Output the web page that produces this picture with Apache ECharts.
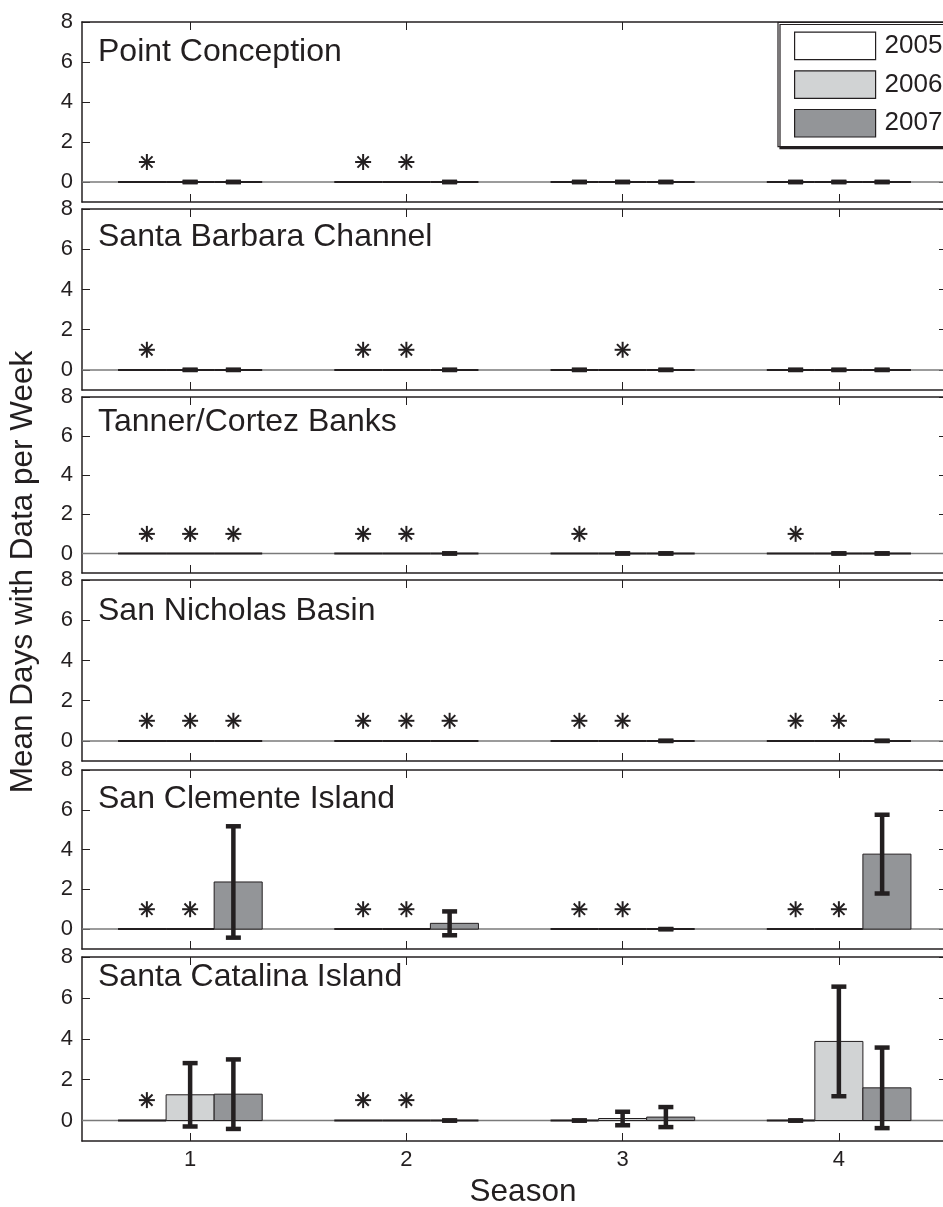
<!DOCTYPE html>
<html>
<head>
<meta charset="utf-8">
<script src="https://cdn.jsdelivr.net/npm/echarts@6/dist/echarts.min.js"></script>
<style>
html,body{margin:0;padding:0;background:#fff;}
#chart{width:943px;height:1207px;}
</style>
</head>
<body>
<div id="chart"></div>
<script>
// ---------------- DATA ----------------
const seasons = [1, 2, 3, 4];
const years = ['2005', '2006', '2007'];
const panelNames = ['Point Conception', 'Santa Barbara Channel', 'Tanner/Cortez Banks',
                    'San Nicholas Basin', 'San Clemente Island', 'Santa Catalina Island'];
const xTicks = [1, 2, 3, 4];
const yTicks = [0, 2, 4, 6, 8];
const yMin = -1, yMax = 8;
const missingMarkerLevel = 1; // asterisk = no data for that season/year

// rows: 2005, 2006, 2007 ; columns: seasons 1-4 ; null = no data (asterisk)
const pointConceptionMean = [[null, null, 0, 0], [0, null, 0, 0], [0, 0, 0, 0]];
const pointConceptionErr  = [[null, null, 0, 0], [0, null, 0, 0], [0, 0, 0, 0]];
const santaBarbaraMean    = [[null, null, 0, 0], [0, null, null, 0], [0, 0, 0, 0]];
const santaBarbaraErr     = [[null, null, 0, 0], [0, null, null, 0], [0, 0, 0, 0]];
const tannerCortezMean    = [[null, null, null, null], [null, null, 0, 0], [null, 0, 0, 0]];
const tannerCortezErr     = [[null, null, null, null], [null, null, 0, 0], [null, 0, 0, 0]];
const sanNicholasMean     = [[null, null, null, null], [null, null, null, null], [null, null, 0, 0]];
const sanNicholasErr      = [[null, null, null, null], [null, null, null, null], [null, null, 0, 0]];
const sanClementeMean     = [[null, null, null, null], [null, null, null, null], [2.37, 0.29, 0, 3.77]];
const sanClementeErr      = [[null, null, null, null], [null, null, null, null], [2.8, 0.6, 0, 1.98]];
const santaCatalinaMean   = [[null, null, 0, 0], [1.26, null, 0.1, 3.87], [1.29, 0, 0.17, 1.6]];
const santaCatalinaErr    = [[null, null, 0, 0], [1.55, null, 0.33, 2.68], [1.7, 0, 0.49, 1.97]];

const panelMeans = [pointConceptionMean, santaBarbaraMean, tannerCortezMean,
                    sanNicholasMean, sanClementeMean, santaCatalinaMean];
const panelErrs  = [pointConceptionErr, santaBarbaraErr, tannerCortezErr,
                    sanNicholasErr, sanClementeErr, santaCatalinaErr];

// ---------------- LAYOUT / STYLE ----------------
const FONT = '"Liberation Sans", Arial, Helvetica, sans-serif';
const INK = '#231f20';
const fills = ['#ffffff', '#d1d3d4', '#939598'];
const barOffsets = [-0.2222, 0, 0.2222];
const barWidth = 0.2222;
const errOffsets = [-0.2, 0, 0.2];
const gridTops = [22, 209, 397, 580, 770, 957];
const gridHeights = [180, 181, 176, 181, 179, 184];
const gridLeft = 82, gridWidth = 865;
const titleY = [52.5, 237.5, 422.5, 611.3, 798.8, 977.5];

function asteriskLines(cx, cy) {
  const r = 8, d = 5.66;
  const segs = [[0, -r, 0, r], [-r, 0, r, 0], [-d, -d, d, d], [-d, d, d, -d]];
  return segs.map(s => ({
    type: 'line',
    shape: { x1: cx + s[0], y1: cy + s[1], x2: cx + s[2], y2: cy + s[3] },
    style: { stroke: INK, lineWidth: 2 }
  }));
}

function makeRender(k) {
  return function (params, api) {
    const s = api.value(0), m = api.value(1), e = api.value(2), miss = api.value(3);
    const bc = s + barOffsets[k];
    const p0 = api.coord([bc - barWidth / 2, 0]);
    const p1 = api.coord([bc + barWidth / 2, m]);
    const children = [];
    if (m === 0) {
      children.push({ type: 'line', shape: { x1: p0[0], y1: p0[1], x2: p1[0], y2: p0[1] },
                      style: { stroke: INK, lineWidth: 2 } });
    } else {
      children.push({ type: 'rect',
        shape: { x: p0[0], y: p1[1], width: p1[0] - p0[0], height: p0[1] - p1[1] },
        style: { fill: fills[k], stroke: INK, lineWidth: 1 } });
    }
    const ex = s + errOffsets[k];
    if (miss) {
      const a = api.coord([ex, missingMarkerLevel]);
      asteriskLines(a[0], a[1]).forEach(c => children.push(c));
    } else {
      const t = api.coord([ex, m + e]);
      const b = api.coord([ex, m - e]);
      const cw = 7.5;
      children.push({ type: 'line', shape: { x1: t[0], y1: t[1], x2: b[0], y2: b[1] },
                      style: { stroke: INK, lineWidth: 4.5 } });
      children.push({ type: 'line', shape: { x1: t[0] - cw, y1: t[1], x2: t[0] + cw, y2: t[1] },
                      style: { stroke: INK, lineWidth: 4.5 } });
      children.push({ type: 'line', shape: { x1: b[0] - cw, y1: b[1], x2: b[0] + cw, y2: b[1] },
                      style: { stroke: INK, lineWidth: 4.5 } });
    }
    return { type: 'group', children };
  };
}

function baselineRender(params, api) {
  const a = api.coord([0.5, 0]);
  const b = api.coord([4.5, 0]);
  return { type: 'line', shape: { x1: a[0], y1: a[1], x2: b[0], y2: b[1] },
           style: { stroke: '#7a7a7a', lineWidth: 1.5 } };
}

const grids = [], xAxes = [], yAxes = [], series = [], graphics = [];

panelNames.forEach((name, i) => {
  grids.push({ left: gridLeft, width: gridWidth, top: gridTops[i], height: gridHeights[i],
               outerBoundsMode: 'none', containLabel: false });
  const axLine = { show: true, onZero: false, lineStyle: { color: INK, width: 1.5 } };
  const tickStyle = { color: INK, width: 1 };
  xAxes.push({ gridIndex: i, type: 'value', min: 0.5, max: 4.5, position: 'bottom',
    axisLine: axLine,
    axisTick: { show: true, inside: true, length: 8, customValues: xTicks, lineStyle: tickStyle },
    axisLabel: { show: i === panelNames.length - 1, customValues: xTicks, margin: 8,
                 fontSize: 22, color: INK, fontFamily: FONT },
    splitLine: { show: false } });
  xAxes.push({ gridIndex: i, type: 'value', min: 0.5, max: 4.5, position: 'top',
    axisLine: axLine,
    axisTick: { show: true, inside: true, length: 8, customValues: xTicks, lineStyle: tickStyle },
    axisLabel: { show: false }, splitLine: { show: false } });
  yAxes.push({ gridIndex: i, type: 'value', min: yMin, max: yMax, position: 'left',
    axisLine: axLine,
    axisTick: { show: true, inside: true, length: 8, customValues: yTicks, lineStyle: tickStyle },
    axisLabel: { show: true, customValues: yTicks, margin: 9, fontSize: 22, color: INK, fontFamily: FONT },
    splitLine: { show: false } });
  yAxes.push({ gridIndex: i, type: 'value', min: yMin, max: yMax, position: 'right',
    axisLine: axLine,
    axisTick: { show: true, inside: true, length: 8, customValues: yTicks, lineStyle: tickStyle },
    axisLabel: { show: false }, splitLine: { show: false } });

  series.push({ type: 'custom', name: 'baseline', xAxisIndex: 2 * i, yAxisIndex: 2 * i,
    silent: true, renderItem: baselineRender, data: [[1, 0]], z: 1 });

  years.forEach((yr, k) => {
    const means = panelMeans[i][k], errs = panelErrs[i][k];
    const data = seasons.map((s, j) => {
      const miss = means[j] === null;
      return [s, miss ? 0 : means[j], miss ? 0 : errs[j], miss ? 1 : 0];
    });
    series.push({ type: 'custom', name: yr, xAxisIndex: 2 * i, yAxisIndex: 2 * i,
      renderItem: makeRender(k), data,
      itemStyle: { color: fills[k], borderColor: INK, borderWidth: 1 }, z: 2 + k });
  });

  graphics.push({ type: 'text', x: 98, y: titleY[i],
    style: { text: name, fontSize: 32, fontFamily: FONT, fill: INK,
             textAlign: 'left', textVerticalAlign: 'middle' } });
});

graphics.push({ type: 'text', x: 23, y: 572, rotation: Math.PI / 2,
  style: { text: 'Mean Days with Data per Week', fontSize: 31.5, fontFamily: FONT, fill: INK,
           textAlign: 'center', textVerticalAlign: 'middle' } });
graphics.push({ type: 'text', x: 523, y: 1192,
  style: { text: 'Season', fontSize: 31.5, fontFamily: FONT, fill: INK,
           textAlign: 'center', textVerticalAlign: 'middle' } });

const chart = echarts.init(document.getElementById('chart'), null, { renderer: 'canvas' });
chart.setOption({
  animation: false,
  backgroundColor: '#ffffff',
  grid: grids,
  xAxis: xAxes,
  yAxis: yAxes,
  legend: {
    data: years.map((y, k) => ({ name: y, itemStyle: { color: fills[k], borderColor: INK, borderWidth: 1.2 } })),
    orient: 'vertical', left: 778, top: 22.5,
    itemWidth: 81, itemHeight: 27.5, itemGap: 10,
    padding: [9, 12, 9, 16],
    backgroundColor: '#ffffff', borderColor: INK, borderWidth: 1.2,
    shadowColor: INK, shadowOffsetX: 2, shadowOffsetY: 2, shadowBlur: 0,
    icon: 'rect', selectedMode: false,
    textStyle: { fontSize: 26, color: INK, fontFamily: FONT, padding: [0, 0, 0, 4], lineHeight: 27 }
  },
  graphic: graphics,
  series: series
});
</script>
</body>
</html>
